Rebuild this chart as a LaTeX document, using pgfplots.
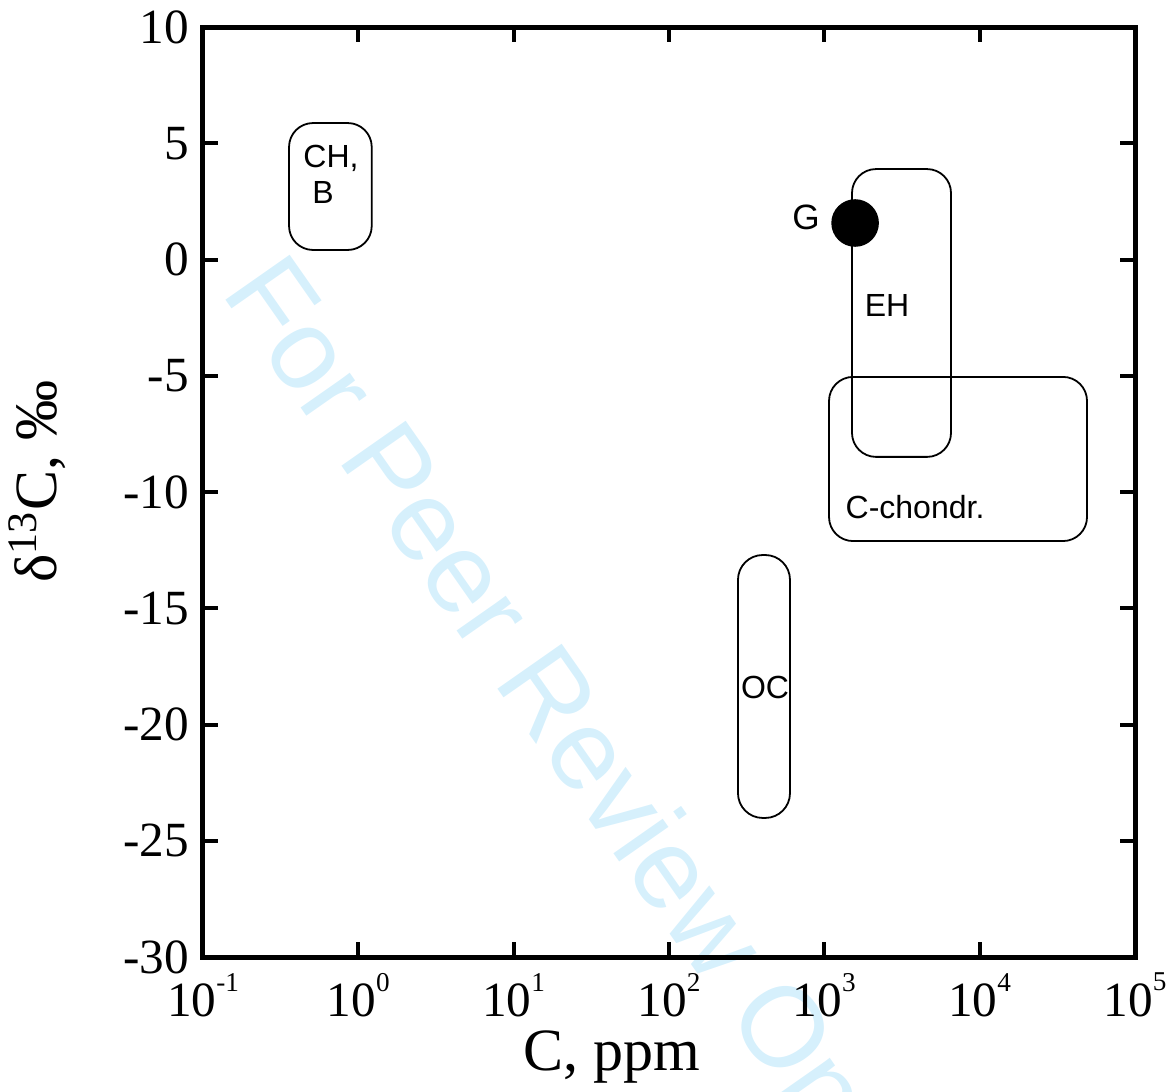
\documentclass[border=0pt]{standalone}
\usepackage{pgfplots}
\pgfplotsset{compat=1.18}
\usepackage{fontspec}
\setmainfont{Liberation Serif}
\newfontfamily\arial{Liberation Sans}
\definecolor{wm}{rgb}{0.84,0.94,0.99}
\newcommand{\tp}[1]{10\raisebox{6.3pt}{\fontsize{6.8pt}{6.8pt}\selectfont #1}}
\begin{document}
\begin{tikzpicture}
% watermark (behind)
\node[anchor=base west, rotate=-55, text=wm, font=\arial\fontsize{28.5pt}{28.5pt}\selectfont, inner sep=0pt] at (4.25pt,166.25pt) {For Peer Review Only};
\begin{axis}[
  name=ax,
  scale only axis,
  width=233pt, height=232.5pt,
  xmode=log,
  xmin=0.1, xmax=100000,
  ymin=-30, ymax=10,
  xtick={0.1,1,10,100,1000,10000,100000},
  xticklabels={\tp{-1},\tp{0},\tp{1},\tp{2},\tp{3},\tp{4},\tp{5}},
  ytick={-30,-25,-20,-15,-10,-5,0,5,10},
  yticklabels={-30,-25,-20,-15,-10,-5,0,5,10},
  xminorticks=false, yminorticks=false,
  tick align=inside,
  major tick length=3.75pt,
  tick style={line width=1pt, black},
  axis line style={line width=1.25pt},
  tick label style={font=\fontsize{12.3}{12.3}\selectfont},
  xticklabel style={yshift=-0.5pt},
  xlabel={C, ppm},
  ylabel={δ\textsuperscript{13}C, ‰},
  label style={font=\fontsize{15}{15}\selectfont},
  xlabel style={at={(axis description cs:0.439,0)}, anchor=base, yshift=-28.25pt},
  ylabel style={at={(axis description cs:-0.1567,0.511)}, anchor=base},
  clip=false,
]
% CH, B
\addplot[black, line width=0.45pt, rounded corners=6pt, mark=none]
  coordinates {(1.22,3.1) (1.22,0.41) (0.358,0.41) (0.358,5.87) (1.22,5.87)} -- cycle;
% EH
\addplot[black, line width=0.45pt, rounded corners=6pt, mark=none]
  coordinates {(6540,-2.3) (6540,-8.49) (1507,-8.49) (1507,3.89) (6540,3.89)} -- cycle;
% C-chondr.
\addplot[black, line width=0.45pt, rounded corners=6pt, mark=none]
  coordinates {(49100,-8.6) (49100,-12.11) (1072,-12.11) (1072,-5.05) (49100,-5.05)} -- cycle;
% OC
\addplot[black, line width=0.45pt, rounded corners=6.2pt, mark=none]
  coordinates {(601,-18.4) (601,-24.02) (278,-24.02) (278,-12.71) (601,-12.71)} -- cycle;
% G
\addplot[only marks, mark=*, mark size=5.75pt, black] coordinates {(1578,1.57)};
\node[anchor=base, font=\arial\fontsize{8pt}{8pt}\selectfont, inner sep=0pt] at (axis cs:0.667,3.94) {CH,};
\node[anchor=base, font=\arial\fontsize{8pt}{8pt}\selectfont, inner sep=0pt] at (axis cs:0.592,2.43) {B};
\node[anchor=base, font=\arial\fontsize{8.8pt}{8.8pt}\selectfont, inner sep=0pt] at (axis cs:762,1.27) {G};
\node[anchor=base, font=\arial\fontsize{8pt}{8pt}\selectfont, inner sep=0pt] at (axis cs:2535,-2.43) {EH};
\node[anchor=base, font=\arial\fontsize{8pt}{8pt}\selectfont, inner sep=0pt] at (axis cs:3837,-11.12) {C-chondr.};
\node[anchor=base, font=\arial\fontsize{8pt}{8pt}\selectfont, inner sep=0pt] at (axis cs:415,-18.9) {OC};
\end{axis}
\pgfresetboundingbox
\path[use as bounding box] (-50.75pt,-33.5pt) rectangle (243pt,239.25pt);
\end{tikzpicture}
\end{document}
